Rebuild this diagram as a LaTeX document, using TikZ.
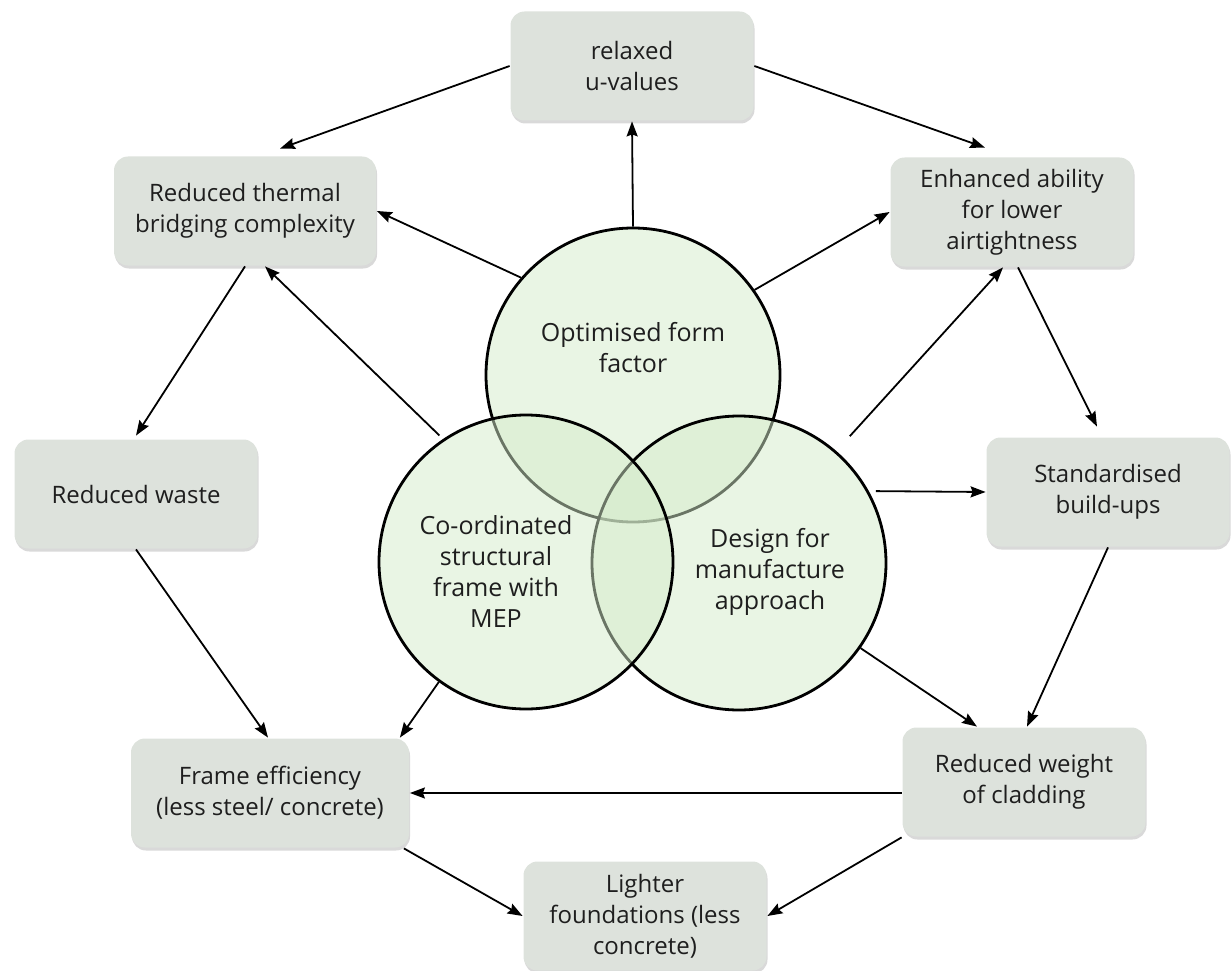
\documentclass[tikz,border=0pt]{standalone}
\usepackage{fontspec}
\setmainfont{Open Sans}
\usetikzlibrary{arrows.meta}
\usetikzlibrary{shadows}

\definecolor{boxgrey}{RGB}{221,226,220}
\definecolor{venngreen}{RGB}{212,235,202}
\definecolor{inktext}{RGB}{30,30,30}

\begin{document}
\begin{tikzpicture}[x=1pt,y=-1pt,->,>={Stealth[length=15pt,width=11pt,inset=2pt]},
  line width=1.8pt,
  box node/.style={rectangle,rounded corners=14pt,fill=boxgrey,
    drop shadow={shadow xshift=1pt,shadow yshift=-3pt,opacity=0.3},
    minimum width=243pt,minimum height=109pt,align=center,
    font=\fontsize{24}{31}\selectfont,text=inktext},
  venn node/.style={circle,draw=black,line width=2.8pt,fill=venngreen,
    fill opacity=0.5,minimum size=294pt},
  venn text/.style={align=center,font=\fontsize{25}{31}\selectfont,text=inktext}]
  \useasboundingbox (0,0) rectangle (1232,971);

  % outer boxes, clockwise from the top
  \node[box node] (relaxed) at (632,66) {relaxed\\u-values};
  \node[box node] (enhanced) at (1012,212) {Enhanced ability\\for lower\\airtightness};
  \node[box node] (standard) at (1108,492) {Standardised\\build-ups};
  \node[box node] (weight) at (1024,782) {Reduced weight\\of cladding};
  \node[box node] (lighter) at (645,916) {Lighter\\foundations (less\\concrete)};
  \node[box node,minimum width=278pt] (frame) at (270,793) {Frame efficiency\\(less steel/ concrete)};
  \node[box node] (waste) at (136,494) {Reduced waste};
  \node[box node,minimum width=262pt] (thermal) at (245,211) {Reduced thermal\\bridging complexity};

  % the three circles: top, right, left
  \node[venn node] (opt) at (633,375) {};
  \node[venn node] (dfm) at (739,563) {};
  \node[venn node] (coord) at (526,562) {};
  \node[venn text] at ([yshift=27pt]opt.center) {Optimised form\\factor};
  \node[venn text] at ([xshift=31pt,yshift=-9pt]dfm.center) {Design for\\manufacture\\approach};
  \node[venn text] at ([xshift=-30pt,yshift=-9pt]coord.center) {Co-ordinated\\structural\\frame with\\MEP};

  \path
    (opt.90) edge (relaxed.south)
    (opt.139) edge (thermal.east)
    (opt.35) edge (enhanced.west)
    (coord.124) edge[shorten <=5pt] ([xshift=20pt]thermal.south)
    (dfm.49) edge[shorten <=20pt] ([xshift=-9pt]enhanced.south)
    (dfm.29) edge[shorten <=7pt] (standard.west)
    (coord.234) edge ([xshift=-10pt]frame.north east)
    (dfm.325) edge ([xshift=-47pt]weight.north)
    (relaxed.west) edge ([xshift=35pt,yshift=7pt]thermal.north)
    (relaxed.east) edge ([xshift=-27pt,yshift=9pt]enhanced.north)
    (thermal.south) edge ([yshift=3pt]waste.north)
    ([xshift=6pt]enhanced.south) edge ([xshift=-11pt,yshift=10pt]standard.north)
    (waste.south) edge ([xshift=-2pt]frame.north)
    (standard.south) edge ([xshift=3pt]weight.north)
    ([yshift=-11pt]weight.west) edge (frame.east)
    ([xshift=-6pt]frame.south east) edge (lighter.west)
    (weight.south west) edge (lighter.east);
\end{tikzpicture}
\end{document}
